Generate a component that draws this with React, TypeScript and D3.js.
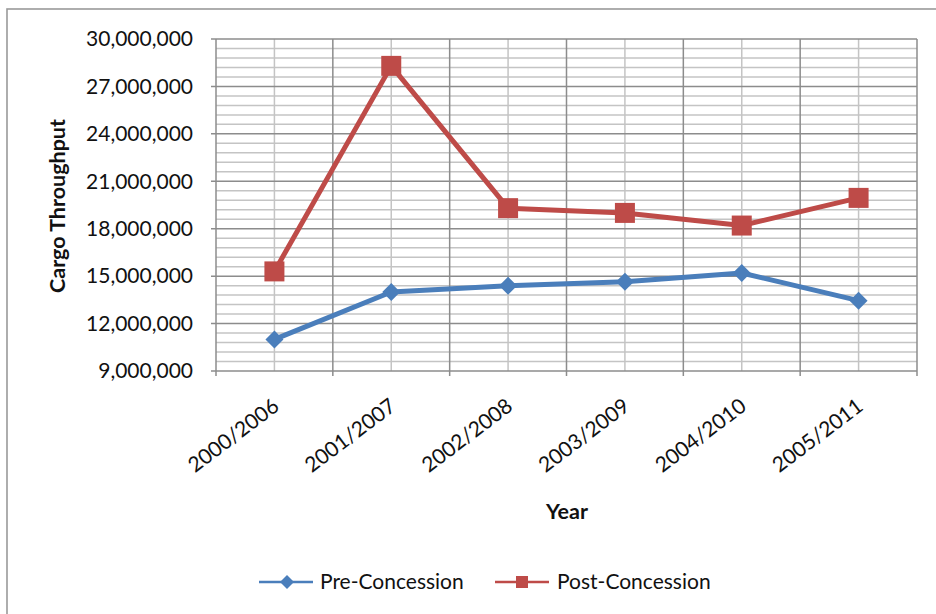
import React from "react";
import * as d3 from "d3";

const categories = ["2000/2006", "2001/2007", "2002/2008", "2003/2009", "2004/2010", "2005/2011"];
const preConcession = [11000000, 14000000, 14400000, 14650000, 15200000, 13450000];
const postConcession = [15300000, 28300000, 19300000, 19000000, 18200000, 19950000];
const yTicks = [9000000, 12000000, 15000000, 18000000, 21000000, 24000000, 27000000, 30000000];

const W = 936;
const H = 614;
const plot = { left: 216, right: 917, top: 39, bottom: 371 };
const FONT = "Lato, 'Open Sans', sans-serif";
const BLUE = "#4A7EBB";
const RED = "#BE4B48";

export default function App() {
  const x = d3
    .scaleBand<string>()
    .domain(categories)
    .range([plot.left, plot.right])
    .paddingInner(0)
    .paddingOuter(0);
  const y = d3.scaleLinear().domain([9000000, 30000000]).range([plot.bottom, plot.top]);
  const cx = (c: string) => (x(c) as number) + x.bandwidth() / 2;

  const minorY = d3.range(9000000, 30000001, 600000).filter((v) => v % 3000000 !== 0);
  const boundaries = categories.map((c) => x(c) as number).concat([plot.right]);
  const fmt = d3.format(",");

  const line = d3
    .line<number>()
    .x((_, i) => cx(categories[i]))
    .y((v) => y(v));

  const diamond = (px: number, py: number, r: number) =>
    `M${px},${py - r}L${px + r},${py}L${px},${py + r}L${px - r},${py}Z`;

  return (
    <svg
      width={W}
      height={H}
      viewBox={`0 0 ${W} ${H}`}
      style={{ position: "absolute", left: 0, top: 0, background: "#fff" }}
    >
      {/* chart frame */}
      <rect x={7} y={9} width={W + 20} height={H + 20} fill="#fff" stroke="#9a9a9a" strokeWidth={1.6} />

      {/* minor horizontal gridlines */}
      {minorY.map((v) => (
        <line key={`mh${v}`} x1={plot.left} x2={plot.right} y1={y(v)} y2={y(v)} stroke="#c4c4c4" strokeWidth={1.5} />
      ))}
      {/* minor vertical gridlines at category centres */}
      {categories.map((c) => (
        <line key={`mv${c}`} x1={cx(c)} x2={cx(c)} y1={plot.top} y2={plot.bottom} stroke="#c4c4c4" strokeWidth={1.5} />
      ))}
      {/* major horizontal gridlines */}
      {yTicks.map((v) => (
        <line key={`h${v}`} x1={plot.left - 5} x2={plot.right} y1={y(v)} y2={y(v)} stroke="#8c8c8c" strokeWidth={1.5} />
      ))}
      {/* major vertical gridlines at category boundaries */}
      {boundaries.map((b, i) => (
        <line key={`v${i}`} x1={b} x2={b} y1={plot.top} y2={plot.bottom + 5} stroke="#8c8c8c" strokeWidth={1.5} />
      ))}

      {/* y tick labels */}
      {yTicks.map((v) => (
        <text
          key={`yl${v}`}
          x={193}
          y={y(v)}
          dy="0.35em"
          textAnchor="end"
          fontFamily={FONT}
          fontSize={21}
          fill="#111"
        >
          {fmt(v)}
        </text>
      ))}

      {/* x tick labels */}
      {categories.map((c) => (
        <text
          key={`xl${c}`}
          transform={`translate(${cx(c) + 6},${plot.bottom + 38}) rotate(-37)`}
          textAnchor="end"
          fontFamily={FONT}
          fontSize={21}
          fill="#111"
        >
          {c}
        </text>
      ))}

      {/* axis titles */}
      <text
        transform={`translate(65,${(plot.top + plot.bottom) / 2 + 1}) rotate(-90)`}
        textAnchor="middle"
        fontFamily={FONT}
        fontWeight="bold"
        fontSize={21.5}
        fill="#111"
      >
        Cargo Throughput
      </text>
      <text x={567} y={519} textAnchor="middle" fontFamily={FONT} fontWeight="bold" fontSize={21.5} fill="#111">
        Year
      </text>

      {/* series */}
      <path d={line(preConcession) || ""} fill="none" stroke={BLUE} strokeWidth={5} strokeLinejoin="round" />
      {preConcession.map((v, i) => (
        <path key={`pm${i}`} d={diamond(cx(categories[i]), y(v), 9)} fill={BLUE} />
      ))}
      <path d={line(postConcession) || ""} fill="none" stroke={RED} strokeWidth={5} strokeLinejoin="round" />
      {postConcession.map((v, i) => (
        <rect key={`qm${i}`} x={cx(categories[i]) - 10} y={y(v) - 10} width={20} height={20} fill={RED} />
      ))}

      {/* legend */}
      <line x1={259} x2={313} y1={582} y2={582} stroke={BLUE} strokeWidth={2.5} />
      <path d={diamond(287, 582, 7)} fill={BLUE} />
      <text x={320} y={582} dy="0.35em" fontFamily={FONT} fontSize={21} fill="#111">
        Pre-Concession
      </text>
      <line x1={495} x2={549} y1={582} y2={582} stroke={RED} strokeWidth={2.5} />
      <rect x={516} y={576} width={12} height={12} fill={RED} />
      <text x={557} y={582} dy="0.35em" fontFamily={FONT} fontSize={21} fill="#111">
        Post-Concession
      </text>
    </svg>
  );
}
